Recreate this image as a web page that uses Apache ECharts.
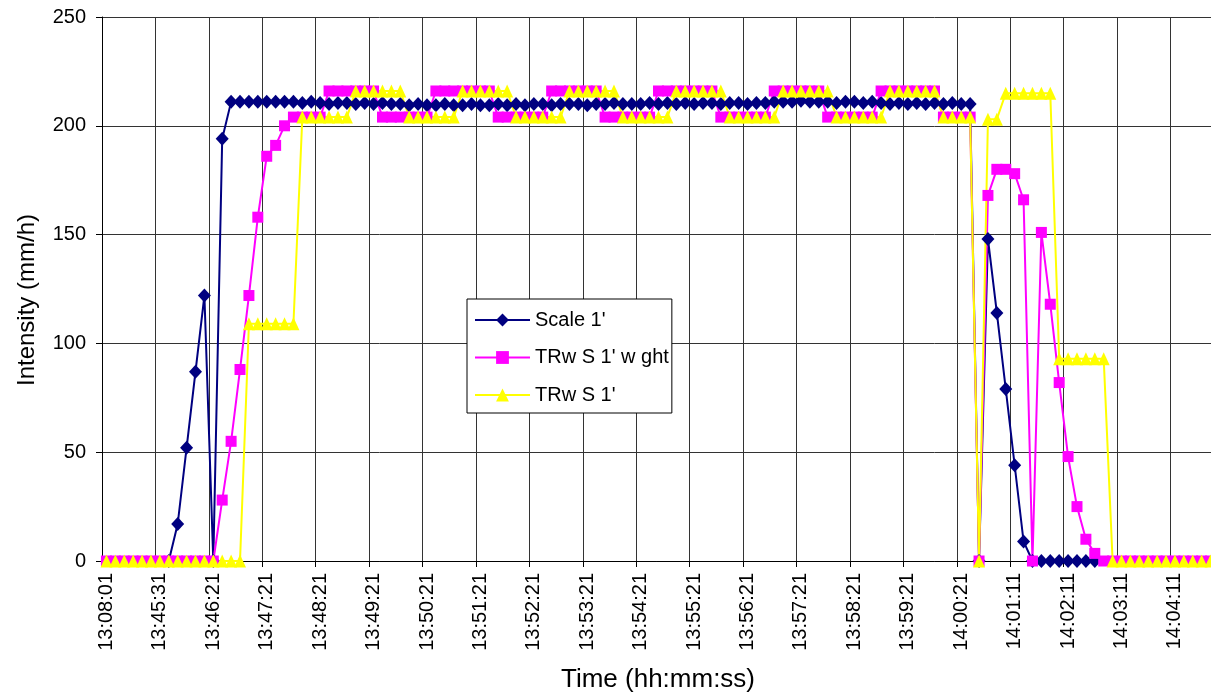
<!DOCTYPE html>
<html>
<head>
<meta charset="utf-8">
<script src="https://cdn.jsdelivr.net/npm/echarts@6/dist/echarts.min.js"></script>
<style>
html,body{margin:0;padding:0;background:#fff;}
#chart{width:1211px;height:693px;}
</style>
</head>
<body>
<div id="chart"></div>
<script>
// Tick labels shown every 6th category
const tickLabels = ['13:08:01','13:45:31','13:46:21','13:47:21','13:48:21','13:49:21','13:50:21',
  '13:51:21','13:52:21','13:53:21','13:54:21','13:55:21','13:56:21','13:57:21','13:58:21',
  '13:59:21','14:00:21','14:01:11','14:02:11','14:03:11','14:04:11'];

// Scale 1' (navy)
const scale1 = [
  null,null,null,null,null,null,null,0,17,52,87,122,0,194,
  211,211,211,211,211,211,211,211,210.5,211,
  210.5,210,210.5,210.5,210,210.5,210,210.5,210,210,
  209.5,210,209.5,209.5,210,209.5,209.5,210,209.5,209.5,210,209.5,
  210,209.5,210,210,209.5,210,210,210,209.5,210,210,210.5,210,210,210,
  210.5,210,210.5,210,210.5,210,210.5,210.5,210,210.5,210.5,210,210.5,210.5,211,
  211,211,211.5,211,211,211,210.5,211,211,210.5,211,
  210.5,210,210.5,210,210.5,210,210.5,210,210.5,210,210,
  0,148,114,79,44,9,
  0,0,0,0,0,0,0,0,
  null,null,null,null,null,null,null,null,null,null,null,null,null
];

// TRw S 1' w ght (magenta)
const trwWght = [
  0,0,0,0,0,0,0,0,0,0,0,0,0,
  28,55,88,122,158,186,191,200,204,
  204,204,204,
  216,216,216,216,216,216,
  204,204,204,204,204,204,
  216,216,216,216,216,216,216,
  204,204,204,204,204,204,
  216,216,216,216,216,216,
  204,204,204,204,204,204,
  216,216,216,216,216,216,216,
  204,204,204,204,204,204,
  216,216,216,216,216,216,
  204,204,204,204,204,204,
  216,216,216,216,216,216,216,
  204,204,204,204,
  0,
  168,180,180,178,166,0,151,118,82,48,25,10,3.5,
  0,0,0,0,0,0,0,0,0,0,0,0,0
];

// TRw S 1' (yellow)
const trw = [
  0,0,0,0,0,0,0,0,0,0,0,0,0,0,0,0,
  109,109,109,109,109,109,
  204,204,204,204,204,204,
  216,216,216,216,216,216,
  204,204,204,204,204,204,
  216,216,216,216,216,216,
  204,204,204,204,204,204,
  216,216,216,216,216,216,
  204,204,204,204,204,204,
  216,216,216,216,216,216,
  204,204,204,204,204,204,
  216,216,216,216,216,216,
  204,204,204,204,204,204,
  216,216,216,216,216,216,
  204,204,204,204,
  0,
  203,203,
  215,215,215,215,215,215,
  93,93,93,93,93,93,
  0,0,0,0,0,0,0,0,0,0,0,0
];

const seriesNames = ["Scale 1'", "TRw S 1' w ght", "TRw S 1'"];

const categories = scale1.map((v, i) => (i % 6 === 0 ? tickLabels[i / 6] : ''));

const FONT = "'Liberation Sans', Arial, sans-serif";
const chart = echarts.init(document.getElementById('chart'), null, {renderer: 'canvas'});

chart.setOption({
  animation: false,
  backgroundColor: '#fff',
  grid: {
    left: 102, top: 17, width: 1113, height: 544,
    containLabel: false, outerBoundsMode: 'none'
  },
  legend: {
    orient: 'vertical',
    left: 467, top: 299,
    backgroundColor: '#fff',
    borderColor: '#000', borderWidth: 1, borderRadius: 0,
    padding: [11, 3, 8, 7],
    itemGap: 17.5,
    itemWidth: 55, itemHeight: 16,
    textStyle: {fontSize: 20, color: '#000', fontFamily: FONT},
    data: seriesNames
  },
  xAxis: {
    type: 'category',
    data: categories,
    boundaryGap: true,
    axisLine: {show: true, lineStyle: {color: '#000', width: 1}},
    axisTick: {show: true, interval: 5, length: 6, inside: false, lineStyle: {color: '#000'}},
    axisLabel: {interval: 5, rotate: 90, fontSize: 20, fontFamily: FONT, color: '#000', margin: 12},
    splitLine: {show: true, interval: 5, lineStyle: {color: '#333', width: 1}}
  },
  yAxis: {
    type: 'value',
    min: 0, max: 250, interval: 50,
    axisLine: {show: true, lineStyle: {color: '#000', width: 1}},
    axisTick: {show: true, length: 6, inside: false, lineStyle: {color: '#000'}},
    axisLabel: {fontSize: 20, fontFamily: FONT, color: '#000', margin: 16},
    splitLine: {show: true, lineStyle: {color: '#333', width: 1}}
  },
  graphic: [
    {type: 'text', x: 27, y: 300, rotation: Math.PI / 2,
     style: {text: 'Intensity (mm/h)', fontSize: 24, fontFamily: FONT, fill: '#000', align: 'center', verticalAlign: 'middle'}},
    {type: 'text', x: 658, y: 680,
     style: {text: 'Time (hh:mm:ss)', fontSize: 26, fontFamily: FONT, fill: '#000', align: 'center', verticalAlign: 'middle'}}
  ],
  series: [
    {name: seriesNames[0], type: 'line', data: scale1,
     symbol: 'diamond', symbolSize: [13, 14], showAllSymbol: true, connectNulls: false,
     lineStyle: {color: '#000080', width: 2}, itemStyle: {color: '#000080'}},
    {name: seriesNames[1], type: 'line', data: trwWght,
     symbol: 'rect', symbolSize: 11, showAllSymbol: true,
     lineStyle: {color: '#FF00FF', width: 2}, itemStyle: {color: '#FF00FF'}},
    {name: seriesNames[2], type: 'line', data: trw,
     symbol: 'triangle', symbolSize: [12, 13], showAllSymbol: true,
     lineStyle: {color: '#FFFF00', width: 2}, itemStyle: {color: '#FFFF00'}}
  ]
});
</script>
</body>
</html>
